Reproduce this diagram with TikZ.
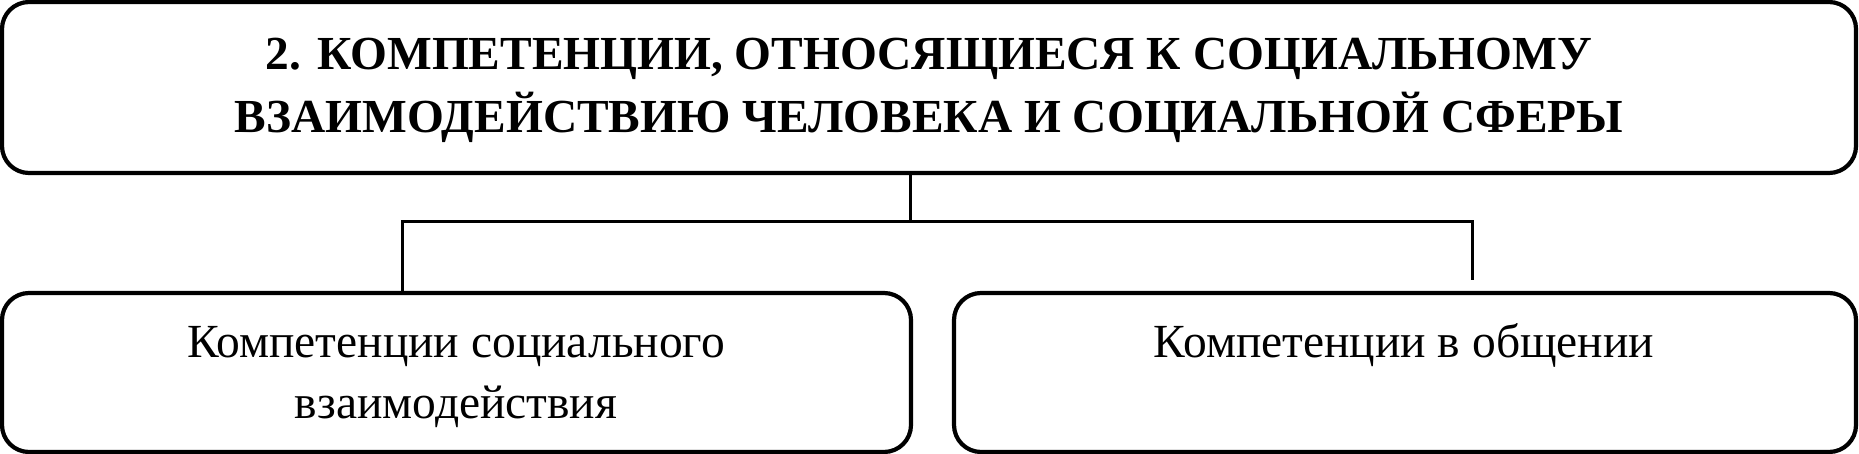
\documentclass[tikz,border=0pt]{standalone}
\usepackage{fontspec}
\setmainfont{Liberation Serif}
\begin{document}
\begin{tikzpicture}[x=1pt,y=-1pt,
  box/.style={draw=black, line width=4.2pt, rounded corners=27pt, inner sep=0pt},
  conn/.style={draw=black, line width=3pt},
  titletext/.style={align=center, inner sep=0pt, font=\fontsize{47.4}{63}\selectfont\bfseries},
  bodytext/.style={align=center, inner sep=0pt, font=\fontsize{47.5}{61}\selectfont}]
\useasboundingbox (0,0) rectangle (1859,454);
\node[box, minimum width=1854pt, minimum height=171pt] (top) at (929,87.5) {};
\node[box, minimum width=909pt, minimum height=159pt] (left) at (456.5,372.5) {};
\node[box, minimum width=902pt, minimum height=159pt] (right) at (1405,372.5) {};
\node[titletext, anchor=base] (ttl) at (929,133) {2. КОМПЕТЕНЦИИ, ОТНОСЯЩИЕСЯ К СОЦИАЛЬНОМУ\\ВЗАИМОДЕЙСТВИЮ ЧЕЛОВЕКА И СОЦИАЛЬНОЙ СФЕРЫ};
\node[bodytext, anchor=base] (ltx) at (456,418) {Компетенции социального\\взаимодействия};
\node[bodytext, anchor=base] (rtx) at (1404,357) {Компетенции в общении};
\coordinate (tb) at (910.5,173);
\coordinate (jn) at (910.5,222);
\coordinate (lj) at (402,222);
\coordinate (rj) at (1472,222);
\coordinate (rend) at (1472,280);
\draw[conn] (tb) -- (jn);
\draw[conn] (left.north -| lj) -- (lj) -- (rj) -- (rend);
\end{tikzpicture}
\end{document}
